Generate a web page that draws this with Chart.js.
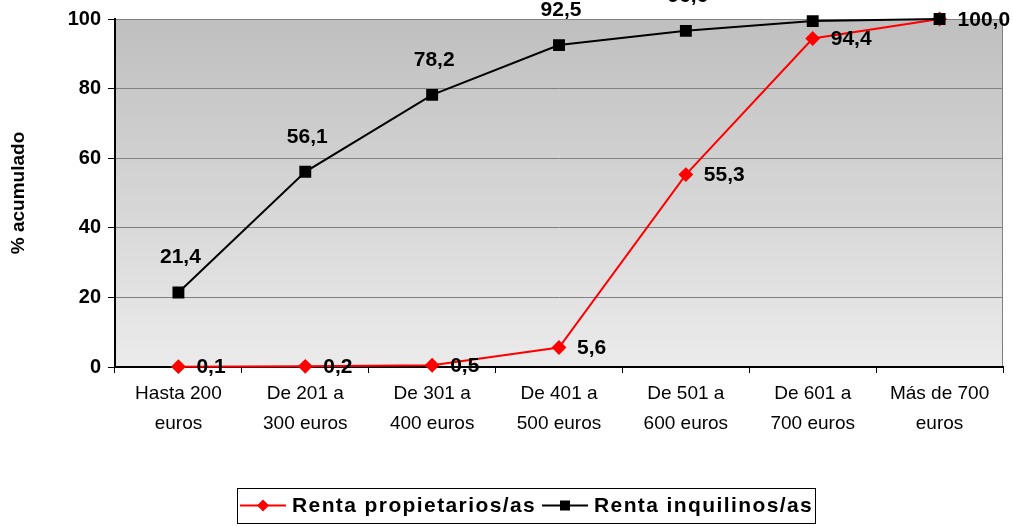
<!DOCTYPE html>
<html>
<head>
<meta charset="utf-8">
<script src="https://cdn.jsdelivr.net/npm/chart.js@4/dist/chart.umd.min.js"></script>
<style>
html,body{margin:0;padding:0;background:#fff;}
</style>
</head>
<body>
<canvas id="canvas" width="1013" height="526"></canvas>
<script>
const categories=[["Hasta 200","euros"],["De 201 a","300 euros"],["De 301 a","400 euros"],["De 401 a","500 euros"],["De 501 a","600 euros"],["De 601 a","700 euros"],["Más de 700","euros"]];
const propietarios=[0.1,0.2,0.5,5.6,55.3,94.4,100.0];
const inquilinos=[21.4,56.1,78.2,92.5,96.6,99.4,100.0];
const seriesNames=["Renta propietarios/as","Renta inquilinos/as"];
const yTitle="% acumulado";

const FONT="'Liberation Sans', Arial, sans-serif";

function fmt(v){
    return v.toFixed(1).replace(".",",");
}

// gray gradient behind the plot
const plotBg={
    id:"plotBg",
    beforeDraw(chart){
        const {ctx,chartArea:a}=chart;
        const g=ctx.createLinearGradient(0,a.top,0,a.bottom);
        g.addColorStop(0,"#bfbfbf");
        g.addColorStop(1,"#ebebeb");
        ctx.save();
        ctx.fillStyle=g;
        ctx.fillRect(a.left,a.top,a.right-a.left,a.bottom-a.top);
        ctx.strokeStyle="#808080";
        ctx.lineWidth=1;
        ctx.beginPath();
        ctx.moveTo(a.left,a.top+0.5);
        ctx.lineTo(a.right-0.5,a.top+0.5);
        ctx.lineTo(a.right-0.5,a.bottom);
        ctx.stroke();
        ctx.restore();
    }
};

// value labels next to the points
const valueLabels={
    id:"valueLabels",
    afterDatasetsDraw(chart){
        const ctx=chart.ctx;
        ctx.save();
        ctx.font="bold 21px "+FONT;
        ctx.fillStyle="#000";
        chart.data.datasets.forEach((ds,i)=>{
            const meta=chart.getDatasetMeta(i);
            meta.data.forEach((pt,j)=>{
                const txt=fmt(ds.data[j]);
                if(ds.labelPos==="above"){
                    ctx.textAlign="center";
                    ctx.textBaseline="middle";
                    ctx.fillText(txt,pt.x+2,pt.y-35);
                }else{
                    ctx.textAlign="left";
                    ctx.textBaseline="middle";
                    ctx.fillText(txt,pt.x+18,pt.y+1);
                }
            });
        });
        ctx.restore();
    }
};

// boxed legend with line + marker samples
const boxLegend={
    id:"boxLegend",
    afterDraw(chart){
        const ctx=chart.ctx;
        const box={left:237,top:488,right:815,bottom:523};
        const cy=(box.top+box.bottom)/2;
        ctx.save();
        ctx.strokeStyle="#000";
        ctx.lineWidth=1;
        ctx.strokeRect(box.left+0.5,box.top+0.5,box.right-box.left,box.bottom-box.top);
        ctx.font="bold 21px "+FONT;
        ctx.letterSpacing="1.4px";
        ctx.textBaseline="middle";
        ctx.textAlign="left";
        const items=[chart.data.datasets[1],chart.data.datasets[0]];
        const starts=[240,542];
        items.forEach((ds,k)=>{
            const x0=starts[k];
            ctx.strokeStyle=ds.borderColor;
            ctx.lineWidth=2;
            ctx.beginPath();
            ctx.moveTo(x0,cy);
            ctx.lineTo(x0+46,cy);
            ctx.stroke();
            ctx.fillStyle=ds.borderColor;
            const mx=x0+23;
            if(ds.pointStyle==="rectRot"){
                ctx.beginPath();
                ctx.moveTo(mx-6,cy);
                ctx.lineTo(mx,cy-6);
                ctx.lineTo(mx+6,cy);
                ctx.lineTo(mx,cy+6);
                ctx.closePath();
                ctx.fill();
            }else{
                ctx.fillRect(mx-5,cy-5,10,10);
            }
            ctx.fillStyle="#000";
            ctx.fillText(ds.label,x0+52,cy+1);
        });
        ctx.restore();
    }
};

new Chart(document.getElementById("canvas"),{
    type:"line",
    data:{
        labels:categories,
        datasets:[{
            label:seriesNames[1],
            data:inquilinos,
            borderColor:"#000000",
            backgroundColor:"#000000",
            borderWidth:2,
            pointStyle:"rect",
            pointRadius:7,
            pointHoverRadius:7,
            tension:0,
            clip:false,
            order:0,
            labelPos:"above"
        },{
            label:seriesNames[0],
            data:propietarios,
            borderColor:"#ff0000",
            backgroundColor:"#ff0000",
            borderWidth:2,
            pointStyle:"rectRot",
            pointRadius:6,
            pointHoverRadius:6,
            tension:0,
            clip:false,
            order:1,
            labelPos:"right"
        }]
    },
    options:{
        responsive:false,
        devicePixelRatio:1,
        animation:false,
        events:[],
        layout:{padding:{left:0,right:10,top:19,bottom:0}},
        plugins:{
            legend:{display:false},
            tooltip:{enabled:false}
        },
        scales:{
            x:{
                offset:true,
                grid:{
                    offset:true,
                    drawOnChartArea:false,
                    drawTicks:true,
                    tickLength:6,
                    color:"#000",
                    tickColor:"#000"
                },
                border:{color:"#000",width:2},
                ticks:{
                    color:"#000",
                    font:{family:FONT,size:19,lineHeight:"30px"},
                    padding:6,
                    maxRotation:0,
                    autoSkip:false
                },
                afterFit(s){s.height=159;}
            },
            y:{
                min:0,
                max:100,
                ticks:{
                    stepSize:20,
                    color:"#000",
                    font:{family:FONT,size:20,weight:"bold"},
                    padding:7
                },
                grid:{
                    color:c=>c.tick&&c.tick.value===0?"rgba(0,0,0,0)":"#808080",
                    tickColor:"#000",
                    tickLength:7,
                    lineWidth:1
                },
                border:{color:"#000",width:2},
                title:{
                    display:true,
                    text:yTitle,
                    color:"#000",
                    font:{family:FONT,size:19,weight:"bold"},
                    padding:{top:7,bottom:0}
                },
                afterFit(s){s.width=115;}
            }
        }
    },
    plugins:[plotBg,valueLabels,boxLegend]
});
</script>
</body>
</html>
